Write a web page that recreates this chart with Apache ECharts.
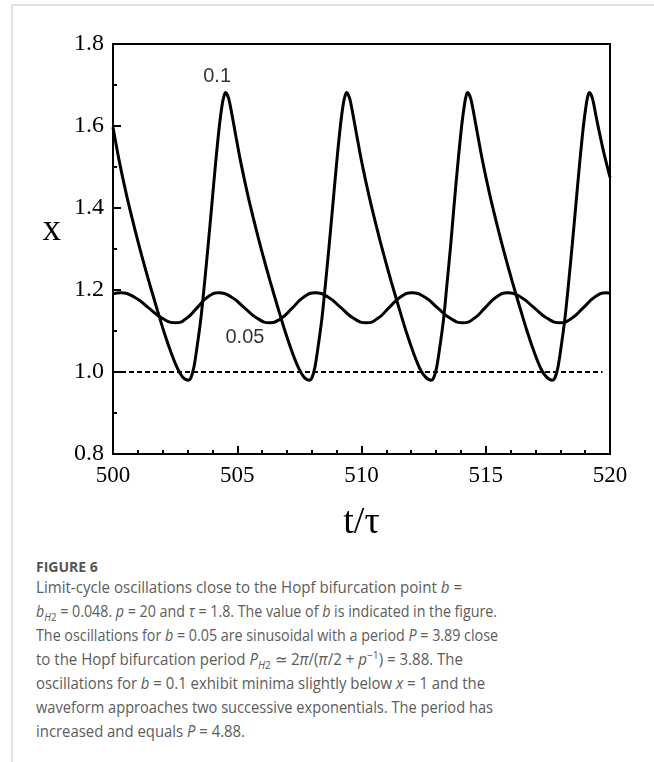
<!DOCTYPE html>
<html>
<head>
<meta charset="utf-8">
<script src="https://cdn.jsdelivr.net/npm/echarts@6/dist/echarts.min.js"></script>
<style>
  html, body { margin:0; padding:0; background:#fff; }
  #wrap { position:relative; width:654px; height:762px; overflow:hidden; }
  #frame { position:absolute; left:11px; top:4px; right:-4px; bottom:-4px; border-left:2px solid #e2e2e2; border-top:2px solid #e2e2e2; }
  #chart { position:absolute; left:0; top:0; width:654px; height:545px; }
  .cap { position:absolute; left:36px; white-space:nowrap; font-family:"Open Sans", "Noto Sans", sans-serif; color:#5c5c5c; transform-origin:0 50%; }
  .line { font-size:16px; line-height:24px; height:24px; }
  .fig { font-size:14px; font-weight:700; line-height:20px; color:#555; }
  sub, sup { font-size:11px; line-height:0; }
</style>
</head>
<body>
<div id="wrap">
  <div id="frame"></div>
  <div id="chart"></div>
  <div class="cap fig" style="top:557px">FIGURE 6</div>
  <div class="cap line" data-w="426" style="top:575px">Limit-cycle oscillations close to the Hopf bifurcation point <i>b</i> =</div>
  <div class="cap line" data-w="461" style="top:599px"><i>b</i><sub><i>H</i>2</sub> = 0.048. <i>p</i> = 20 and <i>τ</i> = 1.8. The value of <i>b</i> is indicated in the figure.</div>
  <div class="cap line" data-w="462" style="top:623px">The oscillations for <i>b</i> = 0.05 are sinusoidal with a period <i>P</i> = 3.89 close</div>
  <div class="cap line" data-w="427" style="top:647px">to the Hopf bifurcation period <i>P</i><sub><i>H</i>2</sub> ≃ 2<i>π</i>/(<i>π</i>/2 + <i>p</i><sup>−1</sup>) = 3.88. The</div>
  <div class="cap line" data-w="449" style="top:671px">oscillations for <i>b</i> = 0.1 exhibit minima slightly below <i>x</i> = 1 and the</div>
  <div class="cap line" data-w="457" style="top:695px">waveform approaches two successive exponentials. The period has</div>
  <div class="cap line" data-w="209" style="top:719px">increased and equals <i>P</i> = 4.88.</div>
</div>
<script>
// ---- data ----
const xTicks = [500, 505, 510, 515, 520];
const yTicks = [0.8, 1.0, 1.2, 1.4, 1.6, 1.8];

// b = 0.1 : [t/tau, x]
const seriesB01 = [
  [500.00,1.597],[500.25,1.515],[500.55,1.430],[500.85,1.355],[501.15,1.285],[501.45,1.220],[501.75,1.158],[502.05,1.098],[502.35,1.045],[502.60,1.008],[502.80,0.988],[503.03,0.980],
  [503.13,0.985],[503.25,1.010],[503.38,1.060],[503.53,1.127],[503.68,1.215],[503.83,1.310],[503.98,1.410],[504.13,1.510],[504.28,1.600],[504.40,1.655],[504.48,1.676],[504.53,1.682],
  [504.65,1.668],[504.78,1.630],[504.93,1.580],[505.13,1.515],[505.43,1.430],[505.73,1.355],[506.03,1.285],[506.33,1.220],[506.63,1.158],[506.93,1.098],[507.23,1.045],[507.48,1.008],[507.68,0.988],[507.90,0.980],
  [508.00,0.985],[508.12,1.010],[508.25,1.060],[508.40,1.127],[508.55,1.215],[508.70,1.310],[508.85,1.410],[509.00,1.510],[509.15,1.600],[509.27,1.655],[509.35,1.676],[509.40,1.682],
  [509.52,1.668],[509.65,1.630],[509.80,1.580],[510.00,1.515],[510.30,1.430],[510.60,1.355],[510.90,1.285],[511.20,1.220],[511.50,1.158],[511.80,1.098],[512.10,1.045],[512.35,1.008],[512.57,0.988],[512.80,0.980],
  [512.90,0.985],[513.02,1.010],[513.15,1.060],[513.30,1.127],[513.44,1.215],[513.59,1.310],[513.73,1.410],[513.88,1.510],[514.03,1.600],[514.15,1.655],[514.22,1.676],[514.27,1.682],
  [514.39,1.668],[514.52,1.630],[514.67,1.580],[514.87,1.515],[515.17,1.430],[515.47,1.355],[515.77,1.285],[516.07,1.220],[516.37,1.158],[516.67,1.098],[516.97,1.045],[517.22,1.008],[517.44,0.988],[517.68,0.980],
  [517.78,0.985],[517.90,1.010],[518.03,1.060],[518.18,1.127],[518.33,1.215],[518.48,1.310],[518.63,1.410],[518.78,1.510],[518.93,1.600],[519.05,1.655],[519.12,1.676],[519.17,1.682],
  [519.29,1.668],[519.42,1.630],[519.57,1.585],[519.77,1.530],[520.00,1.475]
];

// b = 0.05 : [t/tau, x]
const seriesB005 = [
  [500.00,1.191],[500.30,1.193],[500.85,1.183],[501.42,1.157],[501.98,1.131],[502.53,1.120],
  [502.96,1.131],[503.39,1.157],[503.81,1.183],[504.24,1.193],
  [504.76,1.183],[505.28,1.157],[505.80,1.131],[506.32,1.120],
  [506.77,1.131],[507.23,1.157],[507.68,1.183],[508.13,1.193],
  [508.65,1.183],[509.17,1.157],[509.68,1.131],[510.20,1.120],
  [510.66,1.131],[511.11,1.157],[511.57,1.183],[512.02,1.193],
  [512.54,1.183],[513.05,1.157],[513.57,1.131],[514.09,1.120],
  [514.54,1.131],[514.98,1.157],[515.43,1.183],[515.87,1.193],
  [516.40,1.183],[516.94,1.157],[517.47,1.131],[518.00,1.120],
  [518.46,1.131],[518.93,1.157],[519.39,1.183],[519.85,1.193],[520.00,1.192]
];

// dashed reference level x = 1
const referenceLine = [[500, 1.0], [519.7, 1.0]];

// curve labels (value of b)
const curveLabels = [
  { text: '0.1',  at: [504.19, 1.72] },
  { text: '0.05', at: [505.31, 1.085] }
];

const axisName = { x: 't/τ', y: 'x' };

// ---- chart ----
const chart = echarts.init(document.getElementById('chart'), null, { renderer: 'canvas' });
const serif = '"Liberation Serif", "Times New Roman", serif';
const black = '#000';

chart.setOption({
  animation: false,
  backgroundColor: 'transparent',
  grid: { left: 113, top: 44, width: 497, height: 410, show: true, borderColor: black, borderWidth: 2,
          backgroundColor: 'transparent', containLabel: false, outerBoundsMode: 'none' },
  xAxis: {
    type: 'value', min: xTicks[0], max: xTicks[xTicks.length - 1], interval: xTicks[1] - xTicks[0],
    axisLine: { show: true, onZero: false, lineStyle: { color: black, width: 2 } },
    axisTick: { show: true, inside: true, length: 8, lineStyle: { color: black, width: 2 } },
    minorTick: { show: true, splitNumber: 5, length: 4, lineStyle: { color: black, width: 2 } },
    splitLine: { show: false }, minorSplitLine: { show: false },
    axisLabel: { color: black, fontFamily: serif, fontSize: 23, margin: 10, showMinLabel: true, showMaxLabel: true },
    name: axisName.x, nameLocation: 'middle', nameGap: 50,
    nameTextStyle: { color: black, fontFamily: serif, fontSize: 38 }
  },
  yAxis: {
    type: 'value', min: yTicks[0], max: yTicks[yTicks.length - 1], interval: 0.2,
    axisLine: { show: true, onZero: false, lineStyle: { color: black, width: 2 } },
    axisTick: { show: true, inside: true, length: 8, lineStyle: { color: black, width: 2 } },
    minorTick: { show: true, splitNumber: 2, length: 4, lineStyle: { color: black, width: 2 } },
    splitLine: { show: false }, minorSplitLine: { show: false },
    axisLabel: { color: black, fontFamily: serif, fontSize: 24, margin: 9, formatter: v => v.toFixed(1), showMinLabel: true, showMaxLabel: true },
    name: axisName.y, nameLocation: 'middle', nameGap: 52, nameRotate: 0,
    nameTextStyle: { color: black, fontFamily: serif, fontSize: 37, verticalAlign: 'bottom' }
  },
  series: [
    { name: 'b = 0.1', type: 'line', data: seriesB01, showSymbol: false, smooth: 0.3, clip: true,
      lineStyle: { color: black, width: 3 } },
    { name: 'b = 0.05', type: 'line', data: seriesB005, showSymbol: false, smooth: 0.5, clip: true,
      lineStyle: { color: black, width: 3 } },
    { name: 'x = 1', type: 'line', data: referenceLine, showSymbol: false, clip: true,
      lineStyle: { color: black, width: 2, type: [5, 3] } },
    { name: 'labels', type: 'scatter', symbolSize: 0, silent: true,
      data: curveLabels.map(d => ({ value: d.at, name: d.text })),
      label: { show: true, position: 'inside', formatter: p => p.name, color: black,
               fontFamily: '"Liberation Sans", Arial, sans-serif', fontSize: 20 } }
  ]
});

// fit caption lines to the widths seen in the figure
document.querySelectorAll('.cap.line').forEach(el => {
  const target = parseFloat(el.dataset.w);
  const w = el.getBoundingClientRect().width;
  if (w > 0) el.style.transform = 'scaleX(' + (target / w).toFixed(4) + ')';
});
</script>
</body>
</html>
